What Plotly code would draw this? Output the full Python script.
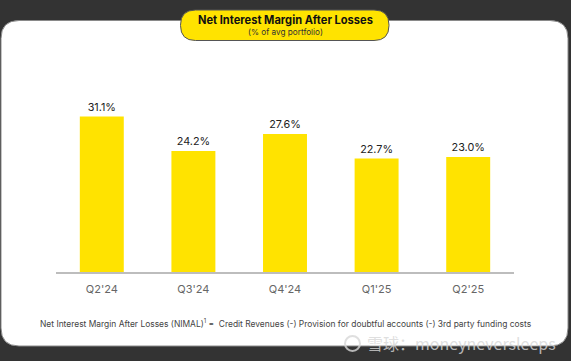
import plotly.graph_objects as go

categories = ["Q2'24", "Q3'24", "Q4'24", "Q1'25", "Q2'25"]
nimal = [31.1, 24.2, 27.6, 22.7, 23.0]
value_labels = ["31.1%", "24.2%", "27.6%", "22.7%", "23.0%"]

W, H = 571, 361
def X(p): return p / W
def Y(p): return 1 - p / H

def rounded(x0, y0, x1, y1, r):
    return (f"M {X(x0+r)} {Y(y0)} L {X(x1-r)} {Y(y0)} Q {X(x1)} {Y(y0)} {X(x1)} {Y(y0+r)} "
            f"L {X(x1)} {Y(y1-r)} Q {X(x1)} {Y(y1)} {X(x1-r)} {Y(y1)} "
            f"L {X(x0+r)} {Y(y1)} Q {X(x0)} {Y(y1)} {X(x0)} {Y(y1-r)} "
            f"L {X(x0)} {Y(y0+r)} Q {X(x0)} {Y(y0)} {X(x0+r)} {Y(y0)} Z")

FONT = "Inter, Lato, sans-serif"

fig = go.Figure(go.Bar(
    x=categories, y=nimal, text=value_labels, textposition="outside",
    cliponaxis=False, width=0.48,
    marker=dict(color="#FFE300", line=dict(width=0)),
    textfont=dict(family=FONT, size=10.8, color="#222222"),
    hoverinfo="skip",
))

shapes = [
    dict(type="path", xref="paper", yref="paper", layer="below", path=rounded(1, 20.5, 568, 346, 18),
         fillcolor="#FFFFFF", line=dict(color="#8a8a8a", width=1)),
    dict(type="path", xref="paper", yref="paper", layer="above", path=rounded(180.5, 10, 389, 40.5, 15),
         fillcolor="#FFE300", line=dict(color="#555555", width=1)),
    dict(type="circle", xref="paper", yref="paper", layer="above", x0=X(345), x1=X(360), y0=Y(351), y1=Y(336),
         fillcolor="rgba(0,0,0,0)", line=dict(color="rgba(215,215,215,0.8)", width=2)),
]

annotations = [
    dict(text="<b>Net Interest Margin After Losses</b>", x=X(285), y=Y(19.5), font=dict(family=FONT, size=11.1, color="#111111")),
    dict(text="(% of avg portfolio)", x=X(285), y=Y(32), font=dict(family=FONT, size=8.2, color="#333333")),
    dict(text="Net Interest Margin After Losses (NIMAL)<sup>1</sup> =  Credit Revenues (-) Provision for doubtful accounts (-) 3rd party funding costs",
         x=X(286), y=Y(323), font=dict(family=FONT, size=8.44, color="#444444")),
    dict(text="雪球：moneyneversleeps", x=X(461), y=Y(343), font=dict(family="Noto Sans CJK SC, Noto Sans", size=16, color="rgba(215,215,215,0.8)")),
]
for a in annotations:
    a.update(xref="paper", yref="paper", showarrow=False, xanchor="center", yanchor="middle")

fig.update_layout(
    width=W, height=H, autosize=False,
    margin=dict(l=0, r=0, t=0, b=0, pad=0),
    paper_bgcolor="#333333", plot_bgcolor="rgba(0,0,0,0)",
    showlegend=False, shapes=shapes, annotations=annotations,
    xaxis=dict(domain=[X(56), X(514)], showline=True, linecolor="#BDBDBD", linewidth=1.5, ticks="", showgrid=False,
               tickfont=dict(family=FONT, size=11, color="#666666"), ticklabelstandoff=6),
    yaxis=dict(domain=[Y(272), Y(97)], range=[0, 35], visible=False, showgrid=False, zeroline=False),
)
fig.write_html("out.html", config=dict(displayModeBar=False),
               post_script="document.body.style.margin='0';document.documentElement.style.overflow='hidden';")
